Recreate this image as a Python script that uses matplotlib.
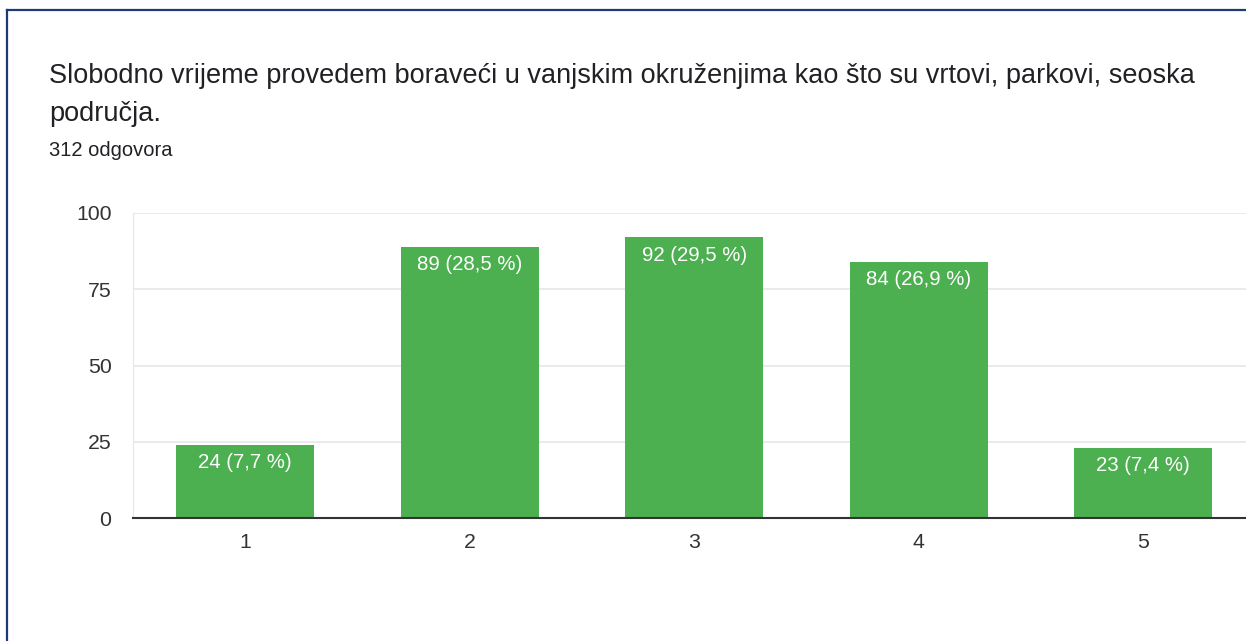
import matplotlib
matplotlib.use("Agg")
import matplotlib.pyplot as plt
from matplotlib.lines import Line2D

plt.rcParams["font.family"] = ["Liberation Sans", "DejaVu Sans"]

# Podaci
kategorije = ["1", "2", "3", "4", "5"]
odgovori = [24, 89, 92, 84, 23]
postoci = ["7,7", "28,5", "29,5", "26,9", "7,4"]
y_tickovi = [0, 25, 50, 75, 100]

naslov_1 = "Slobodno vrijeme provedem boraveći u vanjskim okruženjima kao što su vrtovi, parkovi, seoska"
naslov_2 = "područja."
podnaslov = "312 odgovora"

W, H = 1246, 641
fig = plt.figure(figsize=(W / 100, H / 100), dpi=100)

# okvir (vidljiv samo lijevi i gornji rub)
fig.add_artist(Line2D([7 / W, 7 / W], [0, 1 - 10 / H], color="#1e3a78", lw=1.6))
fig.add_artist(Line2D([7 / W, 1], [1 - 10 / H, 1 - 10 / H], color="#1e3a78", lw=1.6))

fig.text(49 / W, 1 - 76 / H, naslov_1, fontsize=19.5, color="#202124",
         va="center", ha="left")
fig.text(49 / W, 1 - 114 / H, naslov_2, fontsize=19.5, color="#202124",
         va="center", ha="left")
fig.text(49 / W, 1 - 151 / H, podnaslov, fontsize=14.5, color="#202124",
         va="center", ha="left")

ax = fig.add_axes([133 / W, 123 / H, 1122.5 / W, 305 / H])
x = range(1, len(kategorije) + 1)
bars = ax.bar(x, odgovori, width=0.615, color="#4caf50", zorder=3)

for b, n, p in zip(bars, odgovori, postoci):
    ax.annotate(f"{n} ({p} %)", (b.get_x() + b.get_width() / 2, n),
                xytext=(0, -6), textcoords="offset points",
                ha="center", va="top", color="white", fontsize=14.7, zorder=4)

ax.set_xlim(0.5, 5.5)
ax.set_ylim(0, 100)
ax.set_yticks(y_tickovi)
ax.set_xticks(list(x))
ax.set_xticklabels(kategorije)
ax.grid(axis="y", color="#e6e6e6", lw=1.2, zorder=0)
ax.tick_params(length=0, labelsize=15.3, labelcolor="#333333")
ax.tick_params(axis="y", pad=15.5)
ax.tick_params(axis="x", pad=11)
for s in ["top", "right"]:
    ax.spines[s].set_visible(False)
ax.spines["left"].set_color("#e6e6e6")
ax.spines["bottom"].set_color("#333333")
ax.spines["bottom"].set_linewidth(1.5)
ax.spines["bottom"].set_zorder(5)

fig.savefig("out.png", dpi=100)
